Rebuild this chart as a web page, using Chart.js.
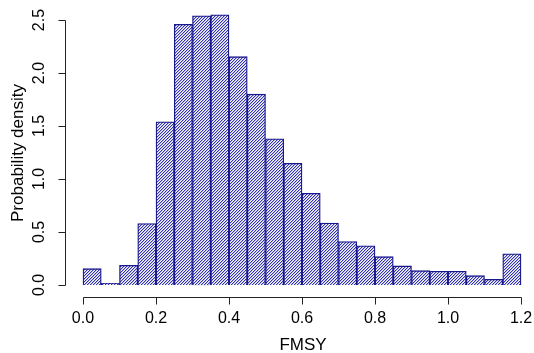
<!DOCTYPE html>
<html>
<head>
<meta charset="utf-8">
<script src="https://cdn.jsdelivr.net/npm/chart.js@4"></script>
<style>
  html, body { margin: 0; padding: 0; background: #fff; }
  canvas { display: block; }
</style>
</head>
<body>
<canvas id="fmsyHist" width="534" height="353"></canvas>
<script>
// histogram of FMSY, bins of 0.05 from 0 to 1.2
const binWidth = 0.05;
const binStarts = [0.00, 0.05, 0.10, 0.15, 0.20, 0.25, 0.30, 0.35, 0.40, 0.45, 0.50, 0.55,
                   0.60, 0.65, 0.70, 0.75, 0.80, 0.85, 0.90, 0.95, 1.00, 1.05, 1.10, 1.15];
const density = [0.154, 0.016, 0.186, 0.58, 1.54, 2.46, 2.54, 2.55, 2.154, 1.80, 1.38, 1.148,
                 0.865, 0.585, 0.41, 0.37, 0.267, 0.18, 0.135, 0.13, 0.13, 0.088, 0.053, 0.295];
const xTicks = [0.0, 0.2, 0.4, 0.6, 0.8, 1.0, 1.2];
const yTicks = [0.0, 0.5, 1.0, 1.5, 2.0, 2.5];

const FONT = '"Liberation Sans", Arial, sans-serif';
const BLUE = 'rgb(24,24,140)';

function hatchPattern() {
    var c = document.createElement('canvas');
    c.width = 3; c.height = 3;
    var g = c.getContext('2d');
    g.fillStyle = 'rgb(246,246,252)';
    g.fillRect(0, 0, 3, 3);
    for (var i = 0; i < 3; i++) {
        g.fillStyle = 'rgb(50,50,170)';
        g.fillRect(i, 2 - i, 1, 1);
        g.fillStyle = 'rgb(185,185,232)';
        g.fillRect(i, (3 - i) % 3, 1, 1);
    }
    return g.createPattern(c, 'repeat');
}

// R-style axes: lines only span the tick range, rotated y labels
const rAxes = {
    id: 'rAxes',
    afterDraw(chart) {
        var ctx = chart.ctx;
        var xs = chart.scales.x, ys = chart.scales.y;
        var axisY = 297.5, axisX = 65.5;
        ctx.save();
        ctx.strokeStyle = '#222';
        ctx.lineWidth = 1;
        ctx.fillStyle = '#000';
        ctx.font = '16px ' + FONT;

        // x axis
        var x0 = Math.round(xs.getPixelForValue(xTicks[0])) + 0.5;
        var x1 = Math.round(xs.getPixelForValue(xTicks[xTicks.length - 1])) + 0.5;
        ctx.beginPath();
        ctx.moveTo(x0, axisY); ctx.lineTo(x1, axisY);
        xTicks.forEach(function (t) {
            var px = Math.round(xs.getPixelForValue(t)) + 0.5;
            ctx.moveTo(px, axisY); ctx.lineTo(px, axisY + 7);
        });
        ctx.stroke();
        ctx.textAlign = 'center';
        ctx.textBaseline = 'middle';
        xTicks.forEach(function (t) {
            ctx.fillText(t.toFixed(1), xs.getPixelForValue(t), 319);
        });
        ctx.font = '17px ' + FONT;
        ctx.fillText('FMSY', (x0 + x1) / 2 + 0.5, 345);

        // y axis
        var y0 = Math.round(ys.getPixelForValue(yTicks[0])) + 0.5;
        var y1 = Math.round(ys.getPixelForValue(yTicks[yTicks.length - 1])) + 0.5;
        ctx.beginPath();
        ctx.moveTo(axisX, y0); ctx.lineTo(axisX, y1);
        yTicks.forEach(function (t) {
            var py = Math.round(ys.getPixelForValue(t)) + 0.5;
            ctx.moveTo(axisX, py); ctx.lineTo(axisX - 7, py);
        });
        ctx.stroke();
        ctx.font = '16px ' + FONT;
        yTicks.forEach(function (t) {
            ctx.save();
            ctx.translate(40, ys.getPixelForValue(t));
            ctx.rotate(-Math.PI / 2);
            ctx.fillText(t.toFixed(1), 0, 0);
            ctx.restore();
        });
        ctx.font = '17px ' + FONT;
        ctx.save();
        ctx.translate(18, (y0 + y1) / 2);
        ctx.rotate(-Math.PI / 2);
        ctx.fillText('Probability density', 0, 0);
        ctx.restore();
        ctx.restore();
    }
};

const histData = {
    datasets: [{
        label: 'FMSY',
        data: binStarts.map(function (b, i) { return { x: b + binWidth / 2, y: density[i] }; }),
        backgroundColor: hatchPattern(),
        borderColor: BLUE,
        borderWidth: 1.3,
        barPercentage: 1,
        categoryPercentage: 1
    }]
};

const fmsyChart = new Chart('fmsyHist', {
    type: 'bar',
    data: histData,
    options: {
        responsive: false,
        animation: false,
        devicePixelRatio: 1,
        layout: { padding: { left: 65, top: 4, right: 0, bottom: 57 } },
        plugins: { legend: { display: false }, tooltip: { enabled: false } },
        scales: {
            x: { type: 'linear', offset: false, min: -0.0493, max: 1.2356, display: false },
            y: { min: -0.1038, max: 2.651, display: false }
        }
    },
    plugins: [rAxes]
});
</script>
</body>
</html>
